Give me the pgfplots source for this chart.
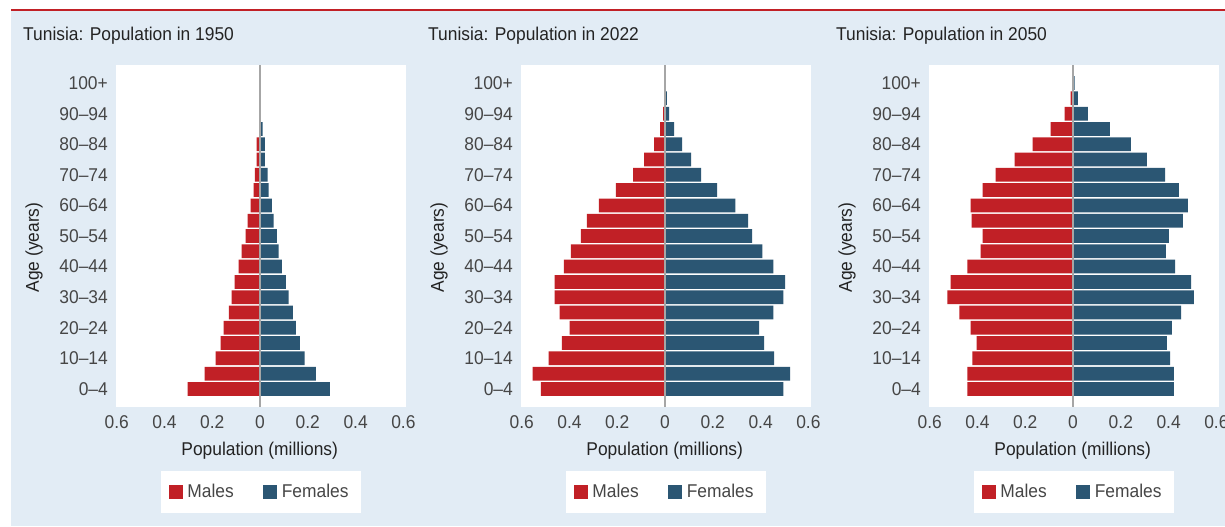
\documentclass[border=0pt]{standalone}
\usepackage{fontspec}
\setmainfont{Liberation Sans}[FakeStretch=0.94]
\usepackage{pgfplots}
\usepackage{pgfplotstable}
\pgfplotsset{compat=1.18}

\definecolor{tred}{RGB}{193,32,38}
\definecolor{tblue}{RGB}{43,86,115}
\definecolor{panelbg}{RGB}{226,236,245}
\definecolor{ticktxt}{RGB}{70,70,70}
\definecolor{labtxt}{RGB}{35,35,35}

% age group index (0 = 0-4 ... 20 = 100+), males, females (millions)
\pgfplotstableread{
age m f
0 0.303 0.292
1 0.232 0.234
2 0.186 0.187
3 0.165 0.167
4 0.152 0.150
5 0.131 0.137
6 0.119 0.120
7 0.106 0.108
8 0.090 0.091
9 0.077 0.078
10 0.060 0.070
11 0.052 0.057
12 0.039 0.049
13 0.027 0.036
14 0.022 0.032
15 0.014 0.020
16 0.014 0.020
17 0.002 0.011
18 0.000 0.000
19 0.000 0.000
20 0.000 0.000
}\popA

\pgfplotstableread{
age m f
0 0.520 0.495
1 0.554 0.524
2 0.487 0.457
3 0.432 0.415
4 0.399 0.394
5 0.441 0.453
6 0.462 0.495
7 0.462 0.503
8 0.424 0.453
9 0.394 0.407
10 0.352 0.365
11 0.327 0.348
12 0.277 0.294
13 0.206 0.218
14 0.134 0.151
15 0.088 0.109
16 0.046 0.071
17 0.021 0.038
18 0.008 0.017
19 0.002 0.008
20 0.000 0.002
}\popB

\pgfplotstableread{
age m f
0 0.442 0.422
1 0.442 0.422
2 0.421 0.406
3 0.404 0.393
4 0.429 0.414
5 0.476 0.452
6 0.526 0.506
7 0.513 0.494
8 0.442 0.427
9 0.387 0.389
10 0.379 0.401
11 0.425 0.460
12 0.429 0.481
13 0.379 0.443
14 0.324 0.385
15 0.245 0.309
16 0.169 0.242
17 0.094 0.154
18 0.035 0.062
19 0.010 0.020
20 0.001 0.007
}\popC

\newcommand{\chartfont}{\fontsize{18.5bp}{22bp}\selectfont}

\pgfplotsset{
  pyr/.style={
    scale only axis, width=290bp, height=342bp,
    anchor=south west,
    xmin=-0.603, xmax=0.611, ymin=-1.18, ymax=21.18,
    axis line style={draw=none}, major tick length=0pt,
    axis background/.style={fill=white},
    xtick={-0.6,-0.4,-0.2,0,0.2,0.4,0.6},
    xticklabels={0.6,0.4,0.2,0,0.2,0.4,0.6},
    ytick={0,2,...,20},
    yticklabels={0--4,10--14,20--24,30--34,40--44,50--54,60--64,70--74,80--84,90--94,100+},
    tick label style={font=\chartfont, text=ticktxt},
    xticklabel style={anchor=base, yshift=-21.3bp},
    yticklabel style={anchor=east, inner sep=0pt, xshift=-8bp},
    xlabel={Population (millions)},
    ylabel={Age (years)},
    label style={font=\chartfont, text=labtxt},
    xlabel style={at={(axis description cs:0.4955,-0.1404)}, anchor=base},
    ylabel style={at={(axis description cs:-0.2828,0.4664)}, anchor=center},
    every axis title shift=0pt,
    title style={at={(axis description cs:-0.3207,1.0711)}, anchor=base west,
      inner sep=0pt, font=\chartfont, text=labtxt},
    legend columns=2,
    legend style={at={(axis description cs:0.5,-0.2477)}, anchor=center,
      draw=none, fill=white, font=\chartfont, text=ticktxt,
      inner xsep=8bp, inner ysep=11.5bp,
      nodes={inner xsep=4.5bp, inner ysep=2bp},
      /tikz/every even column/.append style={column sep=25bp}},
    legend image code/.code={\fill[##1] (0bp,-7bp) rectangle (14bp,7bp);},
  },
  mbar/.style={xbar, bar shift=0pt, bar width=0.9, fill=tred, draw=none},
  fbar/.style={xbar, bar shift=0pt, bar width=0.9, fill=tblue, draw=none},
  zline/.style={no marks, draw=black!35, line width=1.3bp, forget plot},
}

\begin{document}
\begin{tikzpicture}
\useasboundingbox (0,0) rectangle (1225bp,527bp);
\fill[white] (0,0) rectangle (1225bp,527bp);
\fill[panelbg] (11bp,1bp) rectangle (1225bp,516bp);
\fill[tred] (11bp,515.7bp) rectangle (1225bp,518bp);

\begin{axis}[pyr, at={(116bp,120bp)}, title={Tunisia: Population in 1950}]
\addplot[mbar] table[x expr=-\thisrow{m}, y=age] {\popA};
\addlegendentry{Males}
\addplot[fbar] table[x=f, y=age] {\popA};
\addlegendentry{Females}
\addplot[zline] coordinates {(0,-1.18) (0,21.18)};
\end{axis}

\begin{axis}[pyr, at={(521bp,120bp)}, title={Tunisia: Population in 2022}]
\addplot[mbar] table[x expr=-\thisrow{m}, y=age] {\popB};
\addlegendentry{Males}
\addplot[fbar] table[x=f, y=age] {\popB};
\addlegendentry{Females}
\addplot[zline] coordinates {(0,-1.18) (0,21.18)};
\end{axis}

\begin{axis}[pyr, at={(929bp,120bp)}, title={Tunisia: Population in 2050}]
\addplot[mbar] table[x expr=-\thisrow{m}, y=age] {\popC};
\addlegendentry{Males}
\addplot[fbar] table[x=f, y=age] {\popC};
\addlegendentry{Females}
\addplot[zline] coordinates {(0,-1.18) (0,21.18)};
\end{axis}
\end{tikzpicture}
\end{document}
